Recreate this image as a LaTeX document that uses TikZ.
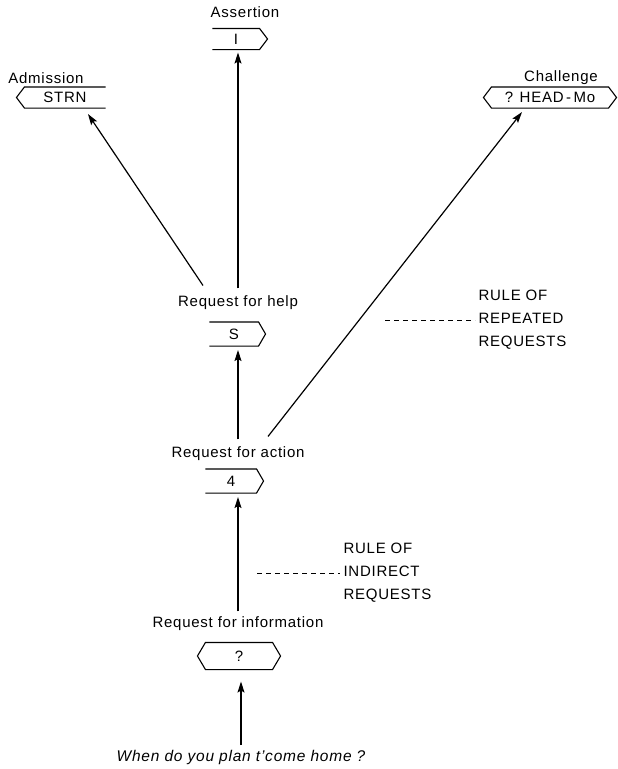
\documentclass[tikz,border=0pt]{standalone}
\usepackage{fontspec}
\setmainfont[LetterSpace=5]{Liberation Sans}
\usetikzlibrary{arrows.meta,calc}
\tikzset{
  lbl/.style={font=\fontsize{15}{17}\selectfont, inner sep=0pt},
  tag/.style={font=\fontsize{15}{17}\selectfont, inner sep=0pt, minimum height=20pt},
  arr/.style={line width=1.2pt, -{Stealth[length=11pt,width=7pt,inset=2pt]}},
  rule/.style={line width=0.9pt, dash pattern=on 5pt off 4pt},
}
\begin{document}
\begin{tikzpicture}[x=1pt,y=-1pt,line width=1.1pt]
  \useasboundingbox (0,0) rectangle (618,769);
  % move labels
  \node[lbl] (assert) at (245,12) {Assertion};
  \node[lbl] (admit) at (46,78) {Admission};
  \node[lbl] (chall) at (561,78) {Challenge};
  \node[lbl] (help) at (238,303) {Request for help};
  \node[lbl] (action) at (238,454) {Request for action};
  \node[lbl] (info) at (238,624) {Request for information};
  \node[lbl, font=\fontsize{15.5}{17}\selectfont\itshape] (when) at (241,757) {When do you plan t'come home ?};
  % boxes
  \node[tag, minimum width=46pt] (I) at (236,39) {I};
  \draw (I.north west) -- (I.north east) -- ([xshift=8pt]I.east) -- (I.south east) -- (I.south west);
  \node[tag, minimum width=80pt] (STRN) at (65,97.5) {STRN};
  \draw (STRN.north east) -- (STRN.north west) -- ([xshift=-8pt]STRN.west) -- (STRN.south west) -- (STRN.south east);
  \node[tag, minimum width=116pt] (HEAD) at (550,97.5) {? HEAD\,-\,Mo};
  \draw (HEAD.north west) -- (HEAD.north east) -- ([xshift=8pt]HEAD.east) -- (HEAD.south east)
    -- (HEAD.south west) -- ([xshift=-8pt]HEAD.west) -- cycle;
  \node[tag, minimum width=48pt, minimum height=23pt] (S) at (234,334) {S};
  \draw (S.north west) -- (S.north east) -- ([xshift=7pt]S.east) -- (S.south east) -- (S.south west);
  \node[tag, minimum width=50pt, minimum height=23pt] (four) at (231,481) {4};
  \draw (four.north west) -- (four.north east) -- ([xshift=7pt]four.east) -- (four.south east) -- (four.south west);
  \node[tag, minimum width=66pt, minimum height=26pt] (ask) at (239,656) {?};
  \draw (ask.north west) -- (ask.north east) -- ([xshift=8pt]ask.east) -- (ask.south east)
    -- (ask.south west) -- ([xshift=-8pt]ask.west) -- cycle;
  % rules
  \node[lbl, align=left, anchor=west, font=\fontsize{15}{23}\selectfont] (repeat) at (478,320) {RULE OF\\REPEATED\\REQUESTS};
  \node[lbl, align=left, anchor=west, font=\fontsize{15}{23}\selectfont] (indirect) at (343,573) {RULE OF\\INDIRECT\\REQUESTS};
  \coordinate (r1) at (385,320);
  \coordinate (r2) at (257,573);
  \draw[rule] (r1) -- ([xshift=-3pt]repeat.west);
  \draw[rule] (r2) -- ([xshift=-3pt]indirect.west);
  % arrows
  \draw[arr] ($(when.north)+(0,-4)$) -- ($(when.north |- ask.south)+(0,12)$);
  \draw[arr] ($(info.north)+(0,-5)$) -- ($(info.north |- four.south)+(0,4)$);
  \draw[arr] ($(action.north)+(0,-7)$) -- ($(action.north |- S.south)+(0,4)$);
  \draw[arr] ($(help.north)+(0,-7)$) -- ($(help.north |- I.south)+(0,3)$);
  \draw[arr] ($(help.north)+(-35,-10)$) -- ($(STRN.south)+(23,6)$);
  \draw[arr] ($(action.north)+(30,-10)$) -- ($(HEAD.south)+(-28,4)$);
\end{tikzpicture}
\end{document}
